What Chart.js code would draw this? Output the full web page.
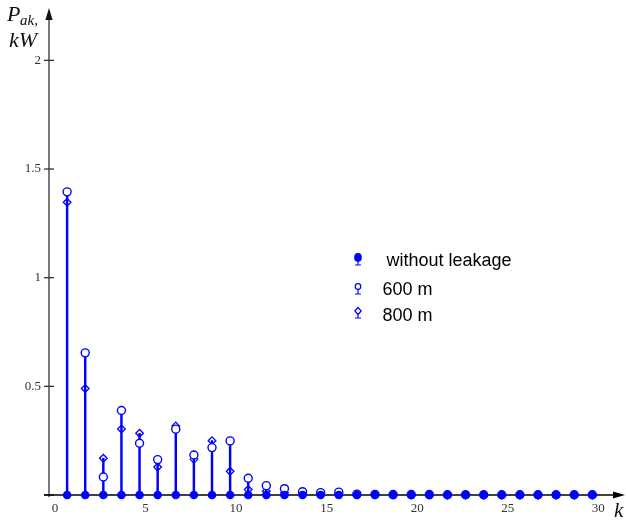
<!DOCTYPE html>
<html>
<head>
<meta charset="utf-8">
<script src="https://cdn.jsdelivr.net/npm/chart.js@4/dist/chart.umd.min.js"></script>
<style>
html,body{margin:0;padding:0;background:#fff;}
#wrap{position:relative;width:626px;height:524px;}
</style>
</head>
<body>
<div id="wrap"><canvas id="c" width="626" height="524"></canvas></div>
<script>
// ---- data ----
const harmonics = [1,2,3,4,5,6,7,8,9,10,11,12,13,14,15,16,17,18,19,20,21,22,23,24,25,26,27,28,29,30];
const withoutLeakage = [0,0,0,0,0,0,0,0,0,0,0,0,0,0,0,0,0,0,0,0,0,0,0,0,0,0,0,0,0,0];
const leak600 = [1.395,0.654,0.083,0.389,0.238,0.163,0.303,0.184,0.218,0.249,0.077,0.043,0.029,0.015,0.011,0.013,0.004,0.003,0.002,0.002,0.002,0.001,0.001,0.001,0.001,0.001,0.001,0.001,0.001,0.001];
const leak800 = [1.347,0.490,0.169,0.304,0.284,0.129,0.318,0.164,0.250,0.109,0.025,0.017,0.01,0.007,0.005,0.005,0.002,0.001,0.001,0.001,0.001,0,0,0,0,0,0,0,0,0];
const xTicks = [0,5,10,15,20,25,30];
const yTicks = [0,0.5,1,1.5,2];
const legendLabels = ['without leakage','600 m','800 m'];

const BLUE = 'rgb(0,0,255)';
const pts = arr => harmonics.map((k,i)=>({x:k, y:arr[i]}));
const stems = harmonics.map((k,i)=>({x:k, y:Math.max(leak600[i], leak800[i], withoutLeakage[i])}));

const decor = {
  id:'decor',
  beforeDatasetsDraw(chart){
    const ctx = chart.ctx, xs = chart.scales.x, ys = chart.scales.y;
    const x0 = xs.getPixelForValue(0), y0 = ys.getPixelForValue(0);
    ctx.save();
    ctx.strokeStyle = '#333'; ctx.lineWidth = 1.3;
    ctx.beginPath(); ctx.moveTo(x0, y0+2); ctx.lineTo(x0, 18); ctx.stroke();
    ctx.fillStyle = '#111';
    ctx.beginPath(); ctx.moveTo(x0, 8); ctx.lineTo(x0-3.6, 20); ctx.lineTo(x0+3.6, 20); ctx.closePath(); ctx.fill();
    yTicks.forEach(v=>{ const y = ys.getPixelForValue(v);
      ctx.beginPath(); ctx.moveTo(x0-5, y); ctx.lineTo(x0+5, y); ctx.stroke(); });
    ctx.strokeStyle = '#000'; ctx.lineWidth = 1.5;
    ctx.beginPath(); ctx.moveTo(x0-5, y0); ctx.lineTo(616, y0); ctx.stroke();
    ctx.fillStyle = '#000';
    ctx.beginPath(); ctx.moveTo(625, y0); ctx.lineTo(613, y0-3.6); ctx.lineTo(613, y0+3.6); ctx.closePath(); ctx.fill();
    ctx.restore();
  },
  afterDraw(chart){
    const ctx = chart.ctx;
    ctx.save();
    ctx.fillStyle = '#111';
    ctx.textBaseline = 'alphabetic'; ctx.textAlign = 'left';
    ctx.font = 'italic 22px "Liberation Serif"';
    ctx.fillText('P', 7, 21);
    ctx.font = 'italic 15px "Liberation Serif"';
    ctx.fillText('ak,', 20, 25);
    ctx.font = 'italic 22px "Liberation Serif"';
    ctx.fillText('kW', 9, 47);
    ctx.font = 'italic 21px "Liberation Serif"';
    ctx.fillText('k', 614, 517);

    const ix = 358;
    ctx.strokeStyle = BLUE; ctx.fillStyle = BLUE; ctx.lineWidth = 1.2;
    const stemIcon = (yt, yb) => { ctx.beginPath(); ctx.moveTo(ix, yt); ctx.lineTo(ix, yb); ctx.moveTo(ix-3, yb); ctx.lineTo(ix+3, yb); ctx.stroke(); };
    stemIcon(258, 265);
    ctx.beginPath(); ctx.ellipse(ix, 257.5, 3.8, 4.4, 0, 0, Math.PI*2); ctx.fill();
    stemIcon(289, 294);
    ctx.beginPath(); ctx.arc(ix, 286.5, 2.8, 0, Math.PI*2); ctx.fillStyle='#fff'; ctx.fill(); ctx.stroke();
    stemIcon(313, 318);
    ctx.beginPath(); ctx.moveTo(ix, 307.5); ctx.lineTo(ix+3.2, 311); ctx.lineTo(ix, 314.5); ctx.lineTo(ix-3.2, 311); ctx.closePath(); ctx.fillStyle='#fff'; ctx.fill(); ctx.stroke();

    ctx.fillStyle = '#000';
    ctx.font = '18px "Liberation Sans"';
    ctx.fillText(legendLabels[0], 386.5, 266);
    ctx.fillText(legendLabels[1], 382.5, 295);
    ctx.fillText(legendLabels[2], 382.5, 321);
    ctx.restore();
  }
};

new Chart(document.getElementById('c'), {
  type:'bar',
  data:{
    datasets:[
      {type:'bar', label:'stems', data:stems, backgroundColor:BLUE, borderWidth:0, barThickness:1.8, order:4},
      {type:'scatter', label:legendLabels[2], data:pts(leak800), pointStyle:'rectRot', pointRadius:3.8, borderColor:BLUE, backgroundColor:'rgba(0,0,0,0)', borderWidth:1.3, order:3, clip:false},
      {type:'scatter', label:legendLabels[1], data:pts(leak600), pointStyle:'circle', pointRadius:4, borderColor:BLUE, backgroundColor:'#fff', borderWidth:1.4, order:2, clip:false},
      {type:'scatter', label:legendLabels[0], data:pts(withoutLeakage), pointStyle:'circle', pointRadius:4.3, borderColor:BLUE, backgroundColor:BLUE, borderWidth:0, order:1, clip:false}
    ]
  },
  options:{
    responsive:false,
    devicePixelRatio:1,
    animation:false,
    events:[],
    layout:{padding:{left:0, right:6.5, top:16.9, bottom:0}},
    plugins:{legend:{display:false}, tooltip:{enabled:false}},
    scales:{
      x:{
        type:'linear', min:0, max:31.5, offset:false,
        grid:{display:false, drawTicks:false, offset:false}, border:{display:false},
        afterBuildTicks: s => { s.ticks = xTicks.map(v=>({value:v})); },
        afterFit: s => { s.height = 29; },
        ticks:{ padding:6, labelOffset:6, maxRotation:0, autoSkip:false,
          font:{family:'"Liberation Serif"', size:13}, color:'#333',
          callback: v => String(v) }
      },
      y:{
        type:'linear', min:0, max:2.2,
        grid:{display:false, drawTicks:false}, border:{display:false},
        afterBuildTicks: s => { s.ticks = yTicks.map(v=>({value:v})); },
        afterFit: s => { s.width = 49; },
        ticks:{ padding:8, autoSkip:false,
          font:{family:'"Liberation Serif"', size:13}, color:'#333',
          callback: v => v === 0 ? '' : String(v) }
      }
    }
  },
  plugins:[decor]
});
</script>
</body>
</html>
